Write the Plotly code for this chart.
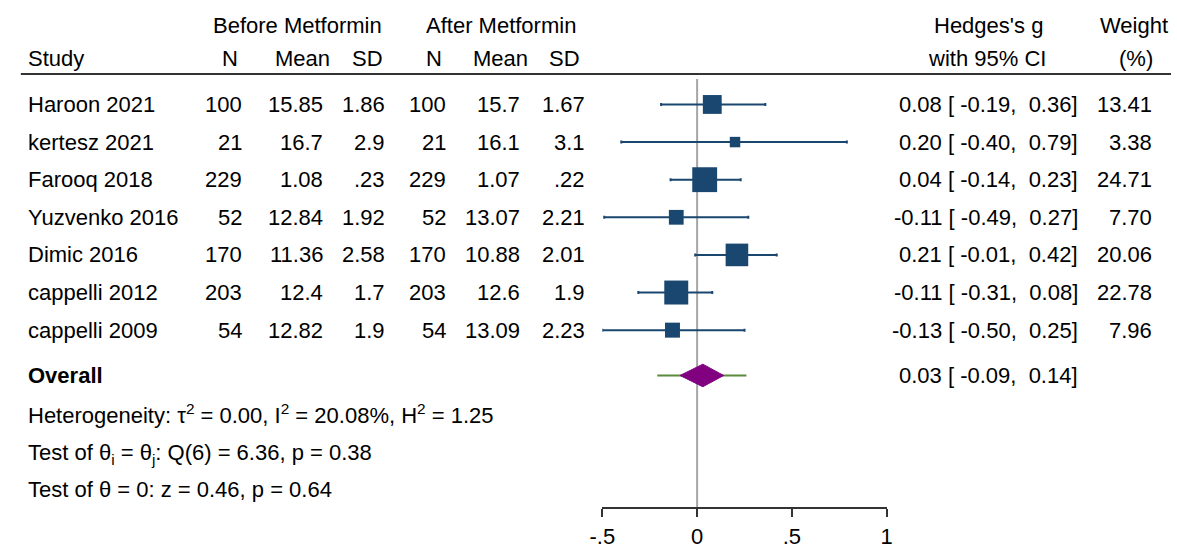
import math
import plotly.graph_objects as go

# ---------------- data ----------------
studies = ["Haroon 2021", "kertesz 2021", "Farooq 2018", "Yuzvenko 2016",
           "Dimic 2016", "cappelli 2012", "cappelli 2009"]
n_before = [100, 21, 229, 52, 170, 203, 54]
mean_before = [15.85, 16.7, 1.08, 12.84, 11.36, 12.4, 12.82]
sd_before = [1.86, 2.9, 0.23, 1.92, 2.58, 1.7, 1.9]
n_after = [100, 21, 229, 52, 170, 203, 54]
mean_after = [15.7, 16.1, 1.07, 13.07, 10.88, 12.6, 13.09]
sd_after = [1.67, 3.1, 0.22, 2.21, 2.01, 1.9, 2.23]
g = [0.08, 0.20, 0.04, -0.11, 0.21, -0.11, -0.13]
g_lo = [-0.19, -0.40, -0.14, -0.49, -0.01, -0.31, -0.50]
g_hi = [0.36, 0.79, 0.23, 0.27, 0.42, 0.08, 0.25]
weight = [13.41, 3.38, 24.71, 7.70, 20.06, 22.78, 7.96]

overall = 0.03
overall_lo = -0.09
overall_hi = 0.14
pred_lo = -0.21
pred_hi = 0.26

het_lines = [
    "Heterogeneity: τ<sup>2</sup> = 0.00, I<sup>2</sup> = 20.08%, H<sup>2</sup> = 1.25",
    "Test of θ<sub>i</sub> = θ<sub>j</sub>: Q(6) = 6.36, p = 0.38",
    "Test of θ = 0: z = 0.46, p = 0.64",
]
tick_vals = [-0.5, 0, 0.5, 1]
tick_text = ["-.5", "0", ".5", "1"]

# ---------------- layout helpers ----------------
W, H = 1177, 549
FONT = "Liberation Sans, Arial, sans-serif"
FS = 22
NAVY = "#1a476f"
PURPLE = "#800080"
GREEN = "#5a8a3a"

row_y = list(range(len(studies)))          # study rows
overall_y = len(studies) - 1 + 1.205
text_y = [overall_y + 1.02 + i for i in range(len(het_lines))]
text_shift = [0, -3, 0]
y_top, y_bot = -2.777, 10.715


def px(x):
    return x / W


def py(y):
    return 1 - y / H


def fmt(v):
    s = str(v)
    if s.startswith("0."):
        s = s[1:]
    return s


NB = "\u00a0"


def ci_text(e, lo, hi):
    s = f"{e:.2f} [{lo:6.2f}, {hi:5.2f}]"
    return s.replace(" ", NB)


fig = go.Figure()

# prediction interval line + diamond
fig.add_trace(go.Scatter(x=[pred_lo, pred_hi], y=[overall_y, overall_y], mode="lines",
                         line=dict(color=GREEN, width=2), hoverinfo="skip",
                         showlegend=False, cliponaxis=False))
dh = 0.30
fig.add_trace(go.Scatter(
    x=[overall_lo, overall, overall_hi, overall, overall_lo],
    y=[overall_y, overall_y - dh, overall_y, overall_y + dh, overall_y],
    mode="lines", fill="toself", fillcolor=PURPLE, line=dict(color=PURPLE, width=1),
    hoverinfo="skip", showlegend=False, cliponaxis=False))

# study squares with CI
fig.add_trace(go.Scatter(
    x=g, y=row_y, mode="markers",
    marker=dict(symbol="square", color=NAVY, opacity=1,
                size=[2 + 4.6 * math.sqrt(w) for w in weight],
                line=dict(width=0)),
    error_x=dict(type="data", symmetric=False,
                 array=[h - e for h, e in zip(g_hi, g)],
                 arrayminus=[e - l for e, l in zip(g, g_lo)],
                 color=NAVY, thickness=2, width=1.5),
    hoverinfo="skip", showlegend=False, cliponaxis=False))

# reference line at 0
fig.add_shape(type="line", xref="x", yref="y", x0=0, x1=0, y0=-0.68, y1=y_bot,
              line=dict(color="#a6a6a6", width=2), layer="below")
# header rule
fig.add_shape(type="line", xref="paper", yref="paper", x0=px(8), x1=1, y0=py(75), y1=py(75),
              line=dict(color="#333333", width=2))

ann = []


def txt(x, y, s, anchor="right", yref="y", bold=False, yshift=0):
    ann.append(dict(x=px(x), xref="paper", y=y, yref=yref, text=("<b>%s</b>" % s) if bold else s,
                    xanchor=anchor, yanchor="middle", showarrow=False, yshift=yshift,
                    font=dict(family=FONT, size=FS, color="black")))


# headers
for x, s in [(289, "Before Metformin"), (496, "After Metformin"), (991, "Hedges's g"),
             (1139, "Weight")]:
    txt(x, py(26), s, "center", "paper")
txt(13, py(59), "Study", "left", "paper")
for x, s in [(221, "N"), (294, "Mean"), (360, "SD"), (428, "N"), (495, "Mean"), (561, "SD"),
             (990, "with 95% CI"), (1141, "(%)")]:
    txt(x, py(59), s, "center", "paper")

# rows
for i, y in enumerate(row_y):
    txt(13, y, studies[i], "left")
    txt(235, y, str(n_before[i]))
    txt(317, y, fmt(mean_before[i]))
    txt(380, y, fmt(sd_before[i]))
    txt(442, y, str(n_after[i]))
    txt(517, y, fmt(mean_after[i]))
    txt(583, y, fmt(sd_after[i]))
    txt(1084, y, ci_text(g[i], g_lo[i], g_hi[i]))
    txt(1160, y, f"{weight[i]:.2f}")

txt(13, overall_y, "Overall", "left", bold=True)
txt(1084, overall_y, ci_text(overall, overall_lo, overall_hi))
for y, s, sh in zip(text_y, het_lines, text_shift):
    txt(13, y, s, "left", yshift=sh)

fig.update_layout(
    width=W, height=H, margin=dict(l=0, r=0, t=0, b=0),
    paper_bgcolor="white", plot_bgcolor="white",
    annotations=ann,
    xaxis=dict(domain=[px(599), px(888)], range=[-0.5, 1], tickvals=tick_vals, ticktext=tick_text,
               showgrid=False, zeroline=False, showline=True, linecolor="#333333", linewidth=2,
               ticks="outside", ticklen=8, tickwidth=2, tickcolor="#333333",
               tickfont=dict(family=FONT, size=FS, color="black")),
    yaxis=dict(domain=[1 - 515 / H, 1], range=[y_bot, y_top], visible=False,
               showgrid=False, zeroline=False),
)

fig.write_html("out.html", config={"displayModeBar": False},
               post_script="document.body.style.margin='0';document.body.style.overflow='hidden';")
